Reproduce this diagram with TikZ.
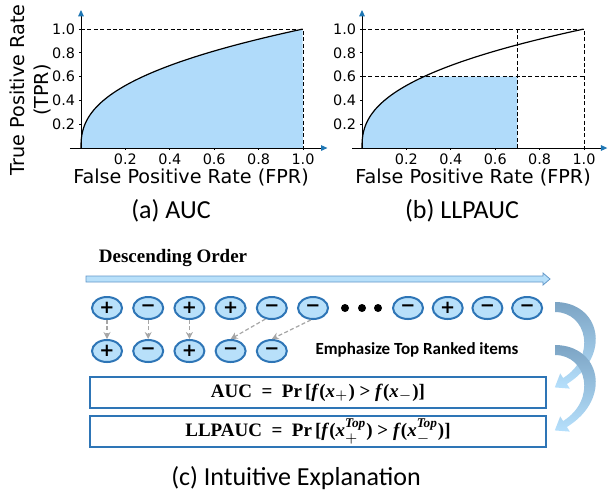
\documentclass[tikz,border=0pt]{standalone}
\usepackage{amsmath,amssymb}
\usepackage{fontspec}
\usepackage{xcolor}
\usetikzlibrary{arrows.meta,positioning,calc,shapes.geometric}
\newfontfamily\plotfont{DejaVu Sans}
\newfontfamily\capfont{Carlito}
\newfontfamily\serifbf{Liberation Serif}
\newcommand{\fbi}{\textbf{\textit{f}}}
\newcommand{\xbi}{\textbf{\textit{x}}}
\definecolor{AreaBlue}{RGB}{176,219,250}
\definecolor{TipBlue}{RGB}{31,119,180}
\definecolor{ItemBlue}{RGB}{46,117,182}
\definecolor{ItemFill}{RGB}{184,224,250}
\definecolor{ArrDark}{RGB}{124,164,196}
\definecolor{ArrLight}{RGB}{182,224,252}

\begin{document}
\begin{tikzpicture}[x=0.5pt,y=-0.5pt,
  axisline/.style={line width=0.5pt,-{Triangle[length=3.2pt,width=2.8pt,color=TipBlue]}},
  guide/.style={line width=0.5pt,dash pattern=on 2pt off 1.2pt},
  ticklab/.style={font=\plotfont\fontsize{7.2}{8}\selectfont,inner sep=0pt},
  axlab/.style={font=\plotfont\fontsize{9.6}{12}\selectfont,align=center},
  captext/.style={font=\capfont\fontsize{13}{15}\selectfont},
  rankitem/.style={ellipse,draw=ItemBlue,line width=1pt,fill=ItemFill,minimum width=15pt,
    minimum height=11pt,inner sep=0pt,font=\plotfont\bfseries\fontsize{9}{9}\selectfont},
  sel/.style={draw=black!35,line width=0.6pt,dash pattern=on 2pt off 1.2pt,
    -{Stealth[length=3.5pt,width=3.5pt]}},
  formbox/.style={draw=ItemBlue,line width=0.6pt,fill=white,minimum width=228pt,
    minimum height=15.5pt,inner sep=0pt,font=\serifbf\bfseries\fontsize{9.5}{10}\selectfont},
  bendarrow/.pic={
    \shade[top color=ArrDark,bottom color=ArrLight]
      (0,-5) .. controls (45,-5) and (58,48.4) .. (11.9,77) -- (14.8,81.6) -- (-0.2,80.4)
      -- (5.2,66.4) -- (8.1,71) .. controls (42.1,49.8) and (32,5) .. (0,5) -- cycle;}]
  \useasboundingbox (0,0) rectangle (608,500);

  % (a) AUC
  \begin{scope}[shift={(81,148)},x=111pt,y=59.5pt]
    \fill[AreaBlue] (0,0) -- plot[domain=0:1,samples=80] ({\x*\x*sqrt(\x)},\x) -- (1,0) -- cycle;
    \draw[guide] (0,1) -- (1,1) -- (1,0);
    \draw[line width=0.6pt] plot[domain=0:1,samples=80] ({\x*\x*sqrt(\x)},\x);
    \draw[axisline] (-0.05,0) -- (1.11,0);
    \draw[axisline] (0,0) -- (0,1.16);
    \foreach \v in {0.2,0.4,0.6,0.8,1.0}{
      \draw[line width=0.4pt] (\v,0) -- ++(0,-1pt);
      \draw[line width=0.4pt] (0,\v) -- ++(-1pt,0);
      \node[ticklab,anchor=north] at (\v,-0.045) {\v};
      \node[ticklab,anchor=east] at (-0.025,\v) {\v};}
  \end{scope}
  \node[axlab,rotate=90] (ylab) at (30,90) {True Positive Rate\\(TPR)};
  \node[axlab] (xlabA) at (191,177) {False Positive Rate (FPR)};
  \node[captext] (capA) at (171,211) {(a) AUC};

  % (b) LLPAUC
  \begin{scope}[shift={(362,148)},x=111pt,y=59.5pt]
    \fill[AreaBlue] (0,0) -- plot[domain=0:0.6,samples=60] ({\x*\x*sqrt(\x)},\x) -- (0.7,0.6) -- (0.7,0) -- cycle;
    \draw[guide] (0,1) -- (1,1) -- (1,0);
    \draw[guide] (0,0.6) -- (1,0.6);
    \draw[guide] (0.7,0) -- (0.7,1);
    \draw[line width=0.6pt] plot[domain=0:1,samples=80] ({\x*\x*sqrt(\x)},\x);
    \draw[axisline] (-0.045,0) -- (1.105,0);
    \draw[axisline] (0,0) -- (0,1.16);
    \foreach \v in {0.2,0.4,0.6,0.8,1.0}{
      \draw[line width=0.4pt] (\v,0) -- ++(0,-1pt);
      \draw[line width=0.4pt] (0,\v) -- ++(-1pt,0);
      \node[ticklab,anchor=north] at (\v,-0.045) {\v};
      \node[ticklab,anchor=east] at (-0.025,\v) {\v};}
  \end{scope}
  \node[axlab] (xlabB) at (473,177) {False Positive Rate (FPR)};
  \node[captext] (capB) at (462,211) {(b) LLPAUC};

  % (c) ranking
  \node[font=\serifbf\bfseries\fontsize{9.5}{11}\selectfont] (desc) at (173,258) {Descending Order};
  \draw[ItemBlue!75,fill=ItemFill,line width=0.4pt]
    (86,276) -- (543,276) -- (543,273) -- (550,279) -- (543,285) -- (543,282) -- (86,282) -- cycle;
  \foreach \k/\sg in {1/+,2/−,3/+,4/+,5/−,6/−}
    \node[rankitem] (t\k) at ({107+41.2*(\k-1)},308) {\sg};
  \foreach \k/\sg in {7/−,8/+,9/−,10/−}
    \node[rankitem] (t\k) at ({408+39.7*(\k-7)},308) {\sg};
  \foreach \xx in {345,362,378}
    \fill (\xx,308) circle (2pt);
  \foreach \k/\sg in {1/+,2/−,3/+,4/−,5/−}
    \node[rankitem] (b\k) at ({107+41.2*(\k-1)},351) {\sg};
  \foreach \k in {1,2,3}
    \draw[sel] (t\k) -- (b\k);
  \draw[sel] (t5.240) -- (b4.north);
  \draw[sel] (t6.260) -- (b5.north);
  \node[font=\capfont\bfseries\fontsize{8.5}{10}\selectfont] (emph) at (417,350) {Emphasize Top Ranked items};

  \node[formbox] (aucbox) at (318,392.5)
    {AUC\ \ =\ \ Pr\,[\fbi($\xbi_{+}$)~>~\fbi($\xbi_{-}$)]};
  \node[formbox] (llpbox) at (318,431.5)
    {LLPAUC\ \ =\ \ Pr\,[\fbi($\xbi^{\textbf{\textit{Top}}}_{+}$)~>~\fbi($\xbi^{\textbf{\textit{Top}}}_{-}$)]};
  \pic (arrA) at (555,307) {bendarrow};
  \pic (arrB) at (555,350) {bendarrow};
  \node[captext] (capC) at (296,478) {(c) Intuitive Explanation};
\end{tikzpicture}
\end{document}
